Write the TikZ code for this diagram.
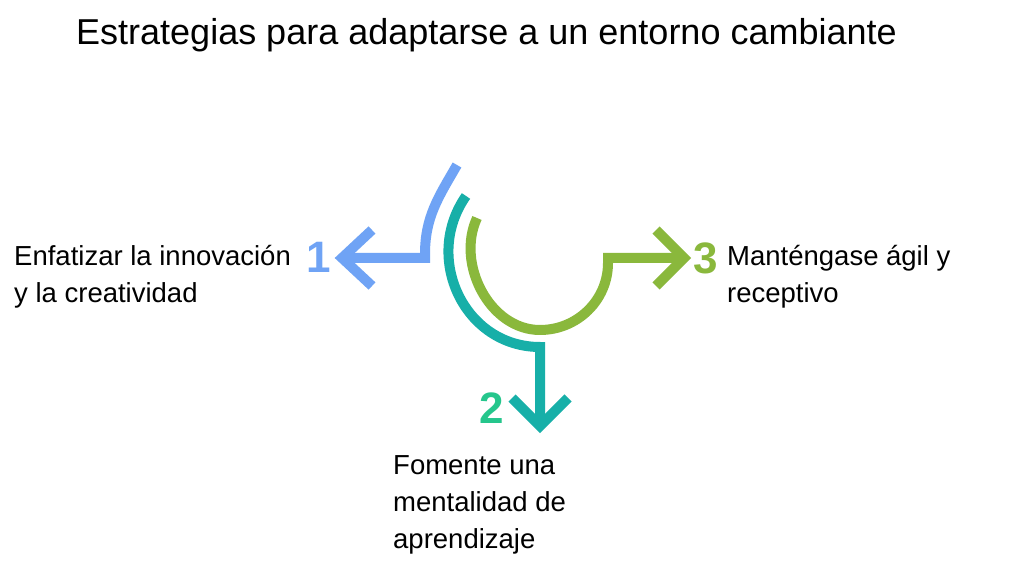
\documentclass[tikz,border=0pt]{standalone}
\usepackage{fontspec}
\setmainfont{Liberation Sans}
\definecolor{azul}{HTML}{6FA3F5}
\definecolor{turquesa}{HTML}{17AFA8}
\definecolor{verde}{HTML}{8AB83C}
\definecolor{verdeazul}{HTML}{25C68C}
\begin{document}
\begin{tikzpicture}[x=1pt,y=1pt,
    flecha/.style={line width=10pt},
    punta/.style={line width=10pt,line join=miter},
    etiqueta/.style={anchor=north west,align=left,inner sep=0pt,
      font=\fontsize{27.5}{37}\selectfont},
    numero/.style={font=\fontsize{44}{44}\selectfont\bfseries,inner sep=0pt}]
	\useasboundingbox[fill=white] (0,0) rectangle (1024,572);

		% Titulo
		\node[anchor=west,inner sep=0pt,font=\fontsize{36}{40}\selectfont] (titulo) at (76,537) {Estrategias para adaptarse a un entorno cambiante};

		% Flechas
		\draw[flecha,azul] (457,407) to[out=240,in=90] (425,318) -- (425,314) -- (342,314);
		\draw[punta,azul] (372,342) -- (342,314) -- (372,286);

		\draw[flecha,turquesa] (466,376) to[out=235,in=180,looseness=1.15] (540,225) -- (540,146);
		\draw[punta,turquesa] (512,174) -- (540,146) -- (568,174);

		\draw[flecha,verde] (477,354) to[out=245,in=180] (540,242) to[out=0,in=270] (608,309) -- (608,314) -- (684,314);
		\draw[punta,verde] (656,342) -- (684,314) -- (656,286);

		% Numeros
		\node[numero,azul] (n1) at (319,315) {1};
		\node[numero,verdeazul] (n2) at (492,164) {2};
		\node[numero,verde] (n3) at (706,314) {3};

		% Textos
		\node[etiqueta] (t1) at (14,327) {Enfatizar la innovación\\y la creatividad};
		\node[etiqueta] (t3) at (727,327) {Manténgase ágil y\\receptivo};
		\node[etiqueta] (t2) at (393,117) {Fomente una\\mentalidad de\\aprendizaje};
	\end{tikzpicture}
\end{document}
